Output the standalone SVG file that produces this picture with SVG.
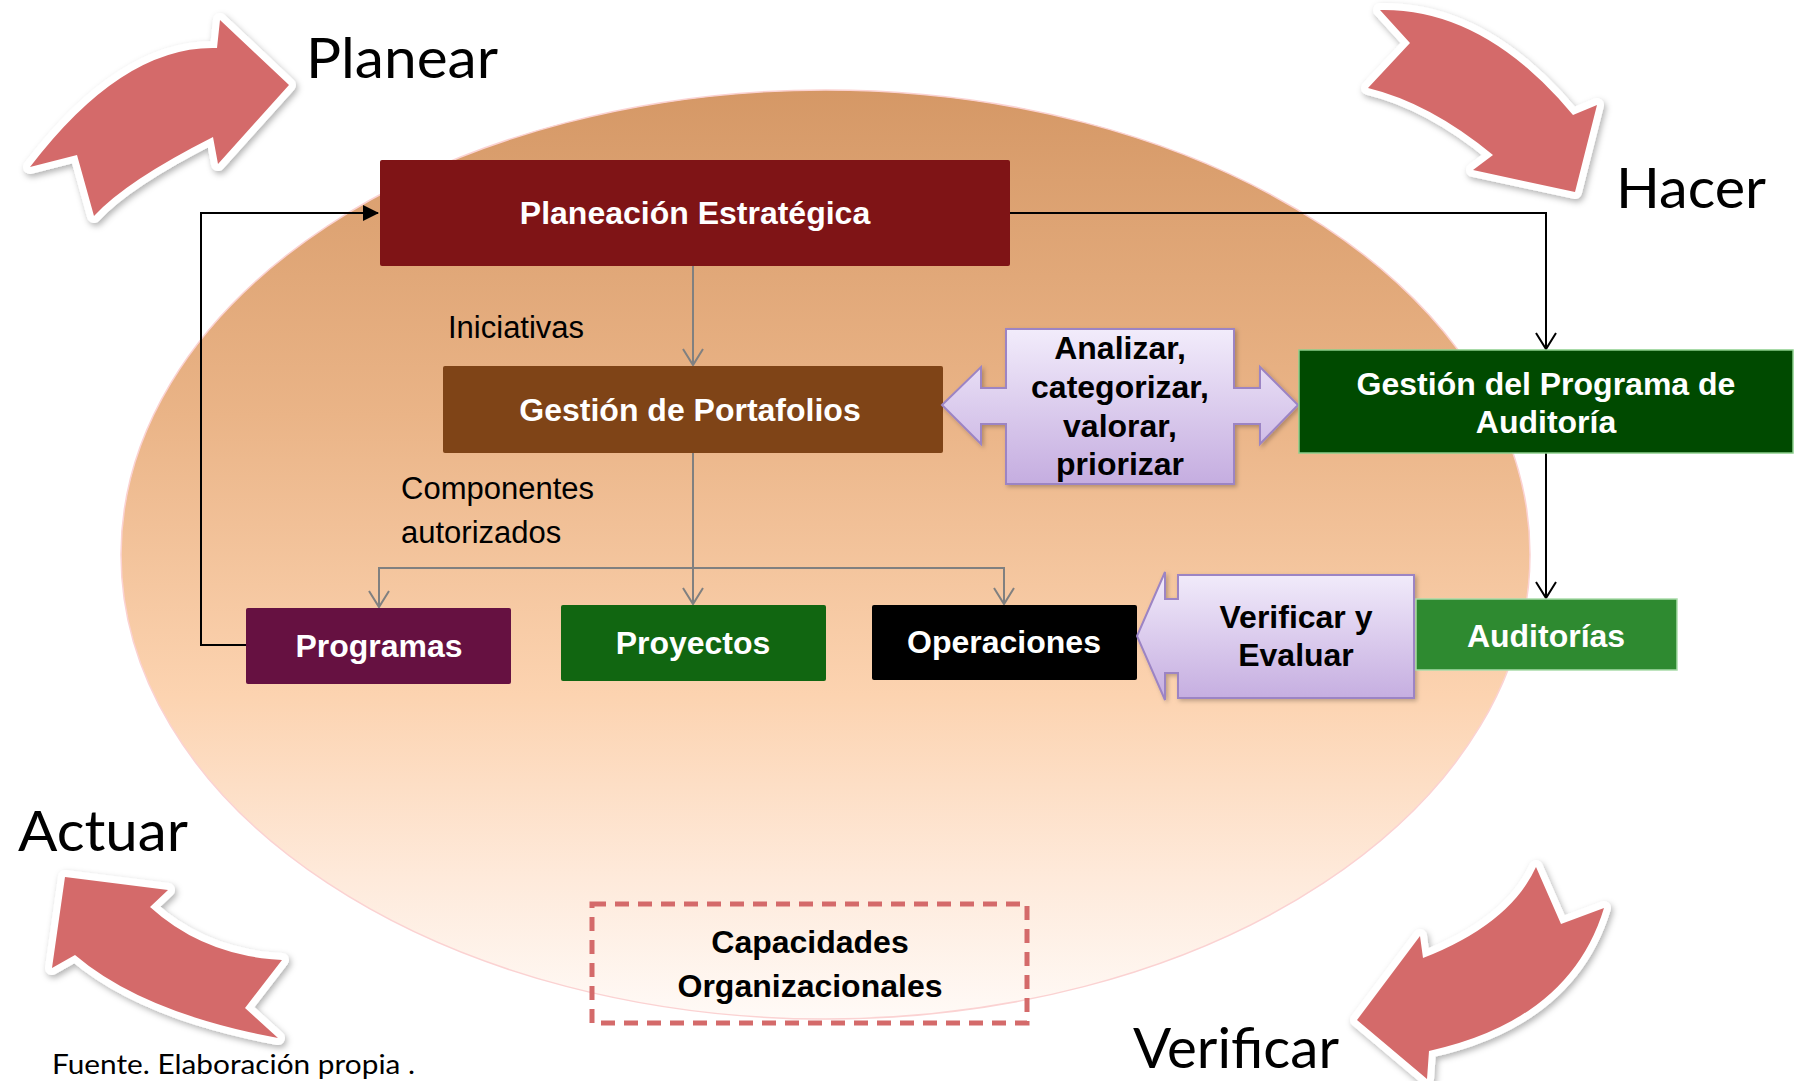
<svg xmlns="http://www.w3.org/2000/svg" width="1806" height="1081" viewBox="0 0 1806 1081">
<defs>
  <linearGradient id="ellGrad" x1="0" y1="0" x2="0" y2="1">
    <stop offset="0" stop-color="#d59866"/>
    <stop offset="0.35" stop-color="#eab487"/>
    <stop offset="0.65" stop-color="#fcd3b0"/>
    <stop offset="0.85" stop-color="#feeadb"/>
    <stop offset="1" stop-color="#fffaf7"/>
  </linearGradient>
  <linearGradient id="lavGrad" x1="0" y1="0" x2="0" y2="1">
    <stop offset="0" stop-color="#f2ecfb"/>
    <stop offset="1" stop-color="#c5ade0"/>
  </linearGradient>
  <filter id="shadow" x="-10%" y="-10%" width="130%" height="130%">
    <feDropShadow dx="2" dy="3" stdDeviation="3" flood-color="#000" flood-opacity="0.3"/>
  </filter>
  <filter id="softShadow" x="-10%" y="-10%" width="130%" height="130%">
    <feDropShadow dx="2" dy="2" stdDeviation="2" flood-color="#000" flood-opacity="0.25"/>
  </filter>
  <marker id="vGray" markerUnits="userSpaceOnUse" viewBox="0 0 20 22" refX="18" refY="11" markerWidth="20" markerHeight="22" orient="auto">
    <path d="M2,1 L18,11 L2,21" fill="none" stroke="#808080" stroke-width="2"/>
  </marker>
  <marker id="vBlack" markerUnits="userSpaceOnUse" viewBox="0 0 20 22" refX="18" refY="11" markerWidth="20" markerHeight="22" orient="auto">
    <path d="M2,1 L18,11 L2,21" fill="none" stroke="#000" stroke-width="2"/>
  </marker>
  <marker id="triBlack" markerUnits="userSpaceOnUse" viewBox="0 0 16 16" refX="15" refY="8" markerWidth="16" markerHeight="16" orient="auto">
    <path d="M0,0 L16,8 L0,16 Z" fill="#000"/>
  </marker>
</defs>
<style>
  .cyc { fill: #d46a6a; stroke: #ffffff; stroke-width: 14; stroke-linejoin: round; paint-order: stroke; filter: url(#shadow); }
  .big { font-family: Lato, "Open Sans", sans-serif; font-size: 56px; fill: #000; }
  .lbl { font-family: "Liberation Sans", Arial, sans-serif; font-weight: bold; font-size: 32px; fill: #fff; text-anchor: middle; }
  .dark { fill: #000; }
  .note { font-family: "Liberation Sans", Arial, sans-serif; font-size: 31px; fill: #000; }
  .gray { fill: none; stroke: #808080; stroke-width: 2; }
  .blk { fill: none; stroke: #000; stroke-width: 2; }
  .lav { fill: url(#lavGrad); stroke: #9c84c4; stroke-width: 2; filter: url(#softShadow); }
</style>

<!-- background ellipse -->
<ellipse id="ellipse" cx="825.5" cy="554.5" rx="704.5" ry="464.5" fill="url(#ellGrad)" stroke="#fbd2d2" stroke-width="1.5"/>

<!-- PDCA cycle arrows -->
<g id="arrow-planear">
  <path class="cyc" d="M30,167 L77,155 L94,216 Q126,181 213,137 L218,164 L289,85 L220,20 L217,48 Q123,45 30,167 Z"/>
  <text class="big" x="306" y="78" textLength="192" lengthAdjust="spacingAndGlyphs">Planear</text>
</g>
<g id="arrow-hacer">
  <path class="cyc" d="M1380,10 L1410,43 L1368,88 Q1430,103 1493,155 L1473,170 L1575,192 L1597,105 L1573,115 Q1484,8 1380,10 Z"/>
  <text class="big" x="1616" y="208" textLength="150" lengthAdjust="spacingAndGlyphs">Hacer</text>
</g>
<g id="arrow-verificar">
  <path class="cyc" d="M1357,1020 L1420,936 L1423,958 Q1510,924 1536,867 L1561,924 L1604,908 Q1570,1020 1429,1051 L1427,1079 Z"/>
  <text class="big" x="1133" y="1068" textLength="206" lengthAdjust="spacingAndGlyphs">Verificar</text>
</g>
<g id="arrow-actuar">
  <path class="cyc" d="M65,877 L168,890 L150,907 Q204,956 282,960 L245,1008 L278,1038 Q143,1013 75,955 L52,968 Z"/>
  <text class="big" x="18" y="851" textLength="170" lengthAdjust="spacingAndGlyphs">Actuar</text>
</g>

<!-- connectors -->
<g id="connectors">
  <path class="blk" d="M246,645 H201 V213 H378" marker-end="url(#triBlack)"/>
  <path class="blk" d="M1010,213 H1546 V349" marker-end="url(#vBlack)"/>
  <path class="blk" d="M1546,453 V598" marker-end="url(#vBlack)"/>
  <path class="gray" d="M693,266 V365" marker-end="url(#vGray)"/>
  <path class="gray" d="M693,453 V604" marker-end="url(#vGray)"/>
  <path class="gray" d="M693,568 H379 V607" marker-end="url(#vGray)"/>
  <path class="gray" d="M693,568 H1004 V604" marker-end="url(#vGray)"/>
</g>

<!-- edge labels -->
<g id="labels">
  <text class="note" x="448" y="338">Iniciativas</text>
  <text class="note" x="401" y="499">Componentes</text>
  <text class="note" x="401" y="543">autorizados</text>
</g>

<!-- nodes -->
<g id="planeacion">
  <rect x="380" y="160" width="630" height="106" rx="2" fill="#7f1416"/>
  <text class="lbl" x="695" y="224">Planeación Estratégica</text>
</g>
<g id="portafolios">
  <rect x="443" y="366" width="500" height="87" rx="2" fill="#7f4417"/>
  <text class="lbl" x="690" y="421">Gestión de Portafolios</text>
</g>
<g id="analizar">
  <path class="lav" d="M1006,329 H1234 V388 H1260 V367 L1298,405 L1260,444 V424 H1234 V484 H1006 V424 H981 V444 L942,405 L981,367 V388 H1006 Z"/>
  <text class="lbl dark" x="1120" y="359">Analizar,</text>
  <text class="lbl dark" x="1120" y="398">categorizar,</text>
  <text class="lbl dark" x="1120" y="437">valorar,</text>
  <text class="lbl dark" x="1120" y="475">priorizar</text>
</g>
<g id="gpa">
  <rect x="1299" y="350" width="494" height="103" fill="#004a00" stroke="#8ccf8c" stroke-width="1.5"/>
  <text class="lbl" x="1546" y="395">Gestión del Programa de</text>
  <text class="lbl" x="1546" y="433">Auditoría</text>
</g>
<g id="programas">
  <rect x="246" y="608" width="265" height="76" rx="2" fill="#661141"/>
  <text class="lbl" x="379" y="657">Programas</text>
</g>
<g id="proyectos">
  <rect x="561" y="605" width="265" height="76" rx="2" fill="#116611"/>
  <text class="lbl" x="693" y="654">Proyectos</text>
</g>
<g id="operaciones">
  <rect x="872" y="605" width="265" height="75" rx="2" fill="#000"/>
  <text class="lbl" x="1004" y="653">Operaciones</text>
</g>
<g id="verificar-evaluar">
  <path class="lav" d="M1178,575 H1414 V698 H1178 V673 H1165 V700 L1137,636 L1165,572 V599 H1178 Z"/>
  <text class="lbl dark" x="1296" y="628">Verificar y</text>
  <text class="lbl dark" x="1296" y="666">Evaluar</text>
</g>
<g id="auditorias">
  <rect x="1416" y="599" width="261" height="71" fill="#2e8a30" stroke="#a9dca9" stroke-width="1.5"/>
  <text class="lbl" x="1546" y="647">Auditorías</text>
</g>
<g id="capacidades">
  <rect x="592" y="904" width="435" height="119" fill="none" stroke="#d46a6a" stroke-width="5" stroke-dasharray="14 9"/>
  <text class="lbl dark" x="810" y="953">Capacidades</text>
  <text class="lbl dark" x="810" y="997">Organizacionales</text>
</g>

<text id="fuente" x="52" y="1074" font-family="Lato, 'Open Sans', sans-serif" font-size="26" fill="#000" textLength="363" lengthAdjust="spacingAndGlyphs">Fuente. Elaboración propia .</text>
</svg>
